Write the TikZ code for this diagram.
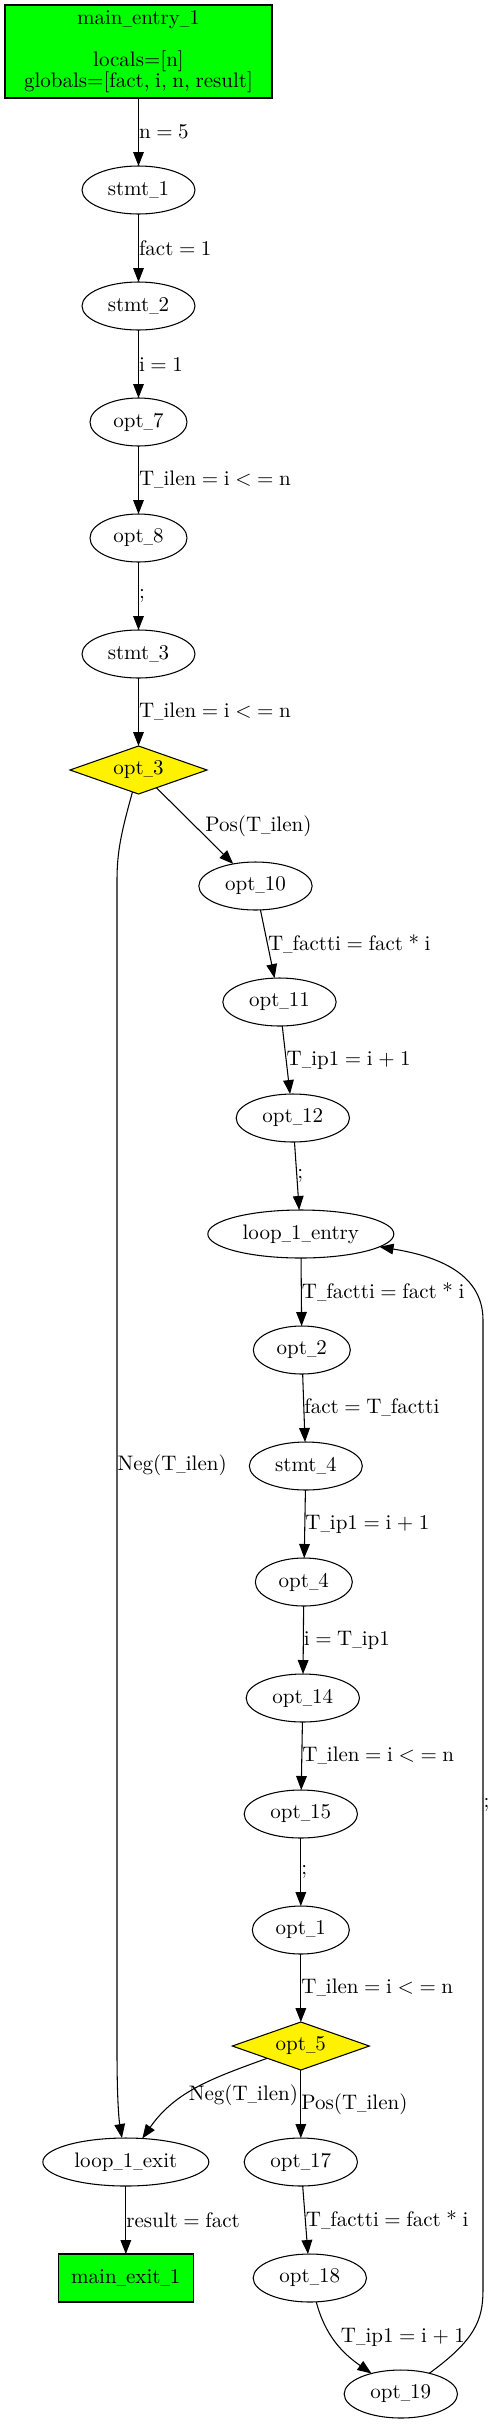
\documentclass[tikz,border=0pt]{standalone}
\usepackage{graphicx}
\usepackage{fontspec}
\setmainfont{lmroman10-regular}[Extension=.otf, WordSpace=0.8]
\usepackage{tikz}
\usetikzlibrary{arrows.meta,positioning,shapes.geometric}

% narrower underscore, as in the drawing
\newsavebox\usbox
\newcommand\us{\sbox\usbox{\_}\scalebox{\fpeval{0.45*\the\fontdimen6\font/\the\wd\usbox}}[1]{\usebox\usbox}}

\begin{document}
\begin{tikzpicture}[x=0.75pt, y=-0.75pt, node distance=51pt, thick,
    >={Triangle[length=10.5pt, width=8pt]},
    font=\fontsize{15.75pt}{15.75pt}\selectfont,
    main/.style = {draw, ellipse, inner sep=0pt, outer sep=0pt, minimum height=36pt},
    main_s/.style = {main, minimum width=72.75pt},
    main_m/.style = {main, minimum width=85pt},
    cond/.style = {draw, diamond, fill=yellow, inner sep=0pt, outer sep=0pt, shape aspect=3, minimum width=102.75pt, minimum height=36pt},
    term/.style = {draw, rectangle, fill=green, inner xsep=8pt, inner ysep=3pt, outer sep=0pt, align=center},
    lbl/.style = {midway, right, inner sep=0pt}]
    \useasboundingbox (0,0) rectangle (496,2424);

    \node[term, minimum width=200.25pt, minimum height=69.75pt] (main_entry_1) at (138.5,51.5) {main\us{}entry\us{}1\\[15.75pt]locals=[n]\\globals=[fact, i, n, result]};
    \node[main, minimum width=84.75pt] (stmt_1) [below=of main_entry_1] {stmt\us{}1};
    \node[main, minimum width=84.75pt] (stmt_2) [below=of stmt_1] {stmt\us{}2};
    \node[main_s] (opt_7) [below=of stmt_2] {opt\us{}7};
    \node[main_s] (opt_8) [below=of opt_7] {opt\us{}8};
    \node[main, minimum width=84.75pt] (stmt_3) [below=of opt_8] {stmt\us{}3};
    \node[cond] (opt_3) [below=of stmt_3] {opt\us{}3};
    \node[main_m] (opt_10) [below=of opt_3, xshift=87.75pt] {opt\us{}10};
    \node[main_m] (opt_11) [below=of opt_10, xshift=18pt] {opt\us{}11};
    \node[main_m] (opt_12) [below=of opt_11, xshift=10pt] {opt\us{}12};
    \node[main, minimum width=139.5pt] (loop_1_entry) [below=of opt_12, xshift=6pt] {loop\us{}1\us{}entry};
    \node[main_s] (opt_2) [below=of loop_1_entry, xshift=0.75pt] {opt\us{}2};
    \node[main, minimum width=84.75pt] (stmt_4) [below=of opt_2, xshift=3pt] {stmt\us{}4};
    \node[main_s] (opt_4) [below=of stmt_4, xshift=-1.5pt] {opt\us{}4};
    \node[main_m] (opt_14) [below=of opt_4, xshift=-0.75pt] {opt\us{}14};
    \node[main_m] (opt_15) [below=of opt_14, xshift=-1.5pt] {opt\us{}15};
    \node[main_s] (opt_1) [below=of opt_15] {opt\us{}1};
    \node[cond] (opt_5) [below=of opt_1] {opt\us{}5};
    \node[main_m] (opt_17) [below=of opt_5] {opt\us{}17};
    \node[main_m] (opt_18) [below=of opt_17, xshift=6.75pt] {opt\us{}18};
    \node[main_m] (opt_19) [below=of opt_18, xshift=68.25pt] {opt\us{}19};
    \node[main, minimum width=124.5pt] (loop_1_exit) [below=of opt_5, xshift=-131.25pt] {loop\us{}1\us{}exit};
    \node[term, minimum width=101.25pt, minimum height=36pt] (main_exit_1) [below=of loop_1_exit] {main\us{}exit\us{}1};

    \draw[->] (main_entry_1) -- node[lbl] {n = 5} (stmt_1);
    \draw[->] (stmt_1) -- node[lbl] {fact = 1} (stmt_2);
    \draw[->] (stmt_2) -- node[lbl] {i = 1} (opt_7);
    \draw[->] (opt_7) -- node[lbl] {T\us{}ilen = i < = n} (opt_8);
    \draw[->] (opt_8) -- node[lbl] {;} (stmt_3);
    \draw[->] (stmt_3) -- node[lbl] {T\us{}ilen = i < = n} (opt_3);
    \draw[->] (opt_3) -- node[lbl, xshift=7.5pt] {Pos(T\us{}ilen)} (opt_10);
    \draw[->] (opt_3) .. controls (122,830) and (117,850) .. (117,880) -- node[lbl] {Neg(T\us{}ilen)} (117,2050) .. controls (117,2100) and (119,2120) .. (loop_1_exit);
    \draw[->] (opt_10) -- node[lbl] {T\us{}factti = fact * i} (opt_11);
    \draw[->] (opt_11) -- node[lbl] {T\us{}ip1 = i + 1} (opt_12);
    \draw[->] (opt_12) -- node[lbl] {;} (loop_1_entry);
    \draw[->] (loop_1_entry) -- node[lbl] {T\us{}factti = fact * i} (opt_2);
    \draw[->] (opt_2) -- node[lbl] {fact = T\us{}factti} (stmt_4);
    \draw[->] (stmt_4) -- node[lbl] {T\us{}ip1 = i + 1} (opt_4);
    \draw[->] (opt_4) -- node[lbl] {i = T\us{}ip1} (opt_14);
    \draw[->] (opt_14) -- node[lbl] {T\us{}ilen = i < = n} (opt_15);
    \draw[->] (opt_15) -- node[lbl] {;} (opt_1);
    \draw[->] (opt_1) -- node[lbl] {T\us{}ilen = i < = n} (opt_5);
    \draw[->] (opt_5) to[out=200, in=55] node[lbl, pos=0.6, xshift=2.5pt] {Neg(T\us{}ilen)} (loop_1_exit);
    \draw[->] (opt_5) -- node[lbl] {Pos(T\us{}ilen)} (opt_17);
    \draw[->] (loop_1_exit) -- node[lbl] {result = fact} (main_exit_1);
    \draw[->] (opt_17) -- node[lbl] {T\us{}factti = fact * i} (opt_18);
    \draw[->] (opt_18) to[out=-75, in=145] node[lbl, xshift=3pt, yshift=4pt] {T\us{}ip1 = i + 1} (opt_19);
    \draw[->] (opt_19) .. controls (475,2340) and (483,2320) .. (483,2290) -- node[lbl] {;} (483,1320) .. controls (483,1270) and (430,1255) .. (loop_1_entry);
\end{tikzpicture}
\end{document}
